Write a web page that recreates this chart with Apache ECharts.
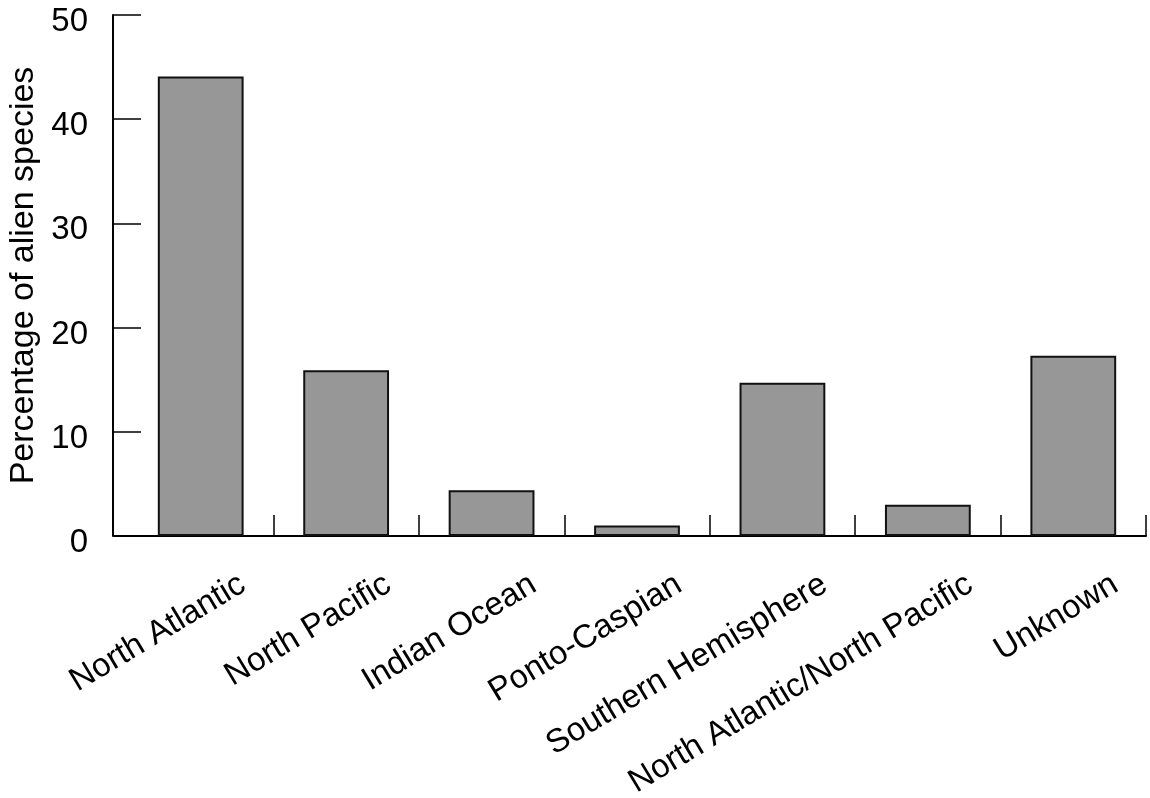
<!DOCTYPE html>
<html>
<head>
<meta charset="utf-8">
<style>
html,body{margin:0;padding:0;background:#fff;}
#chart{width:1150px;height:798px;}
</style>
<script src="https://cdn.jsdelivr.net/npm/echarts@6/dist/echarts.min.js"></script>
</head>
<body>
<div id="chart"></div>
<script>
const categories = ["North Atlantic", "North Pacific", "Indian Ocean", "Ponto-Caspian", "Southern Hemisphere", "North Atlantic/North Pacific", "Unknown"];
const percentages = [44.1, 15.9, 4.4, 1.0, 14.7, 3.0, 17.3];
const yTicks = [0, 10, 20, 30, 40, 50];
const yAxisTitle = "Percentage of alien species";

const FONT = "'Liberation Sans', Arial, sans-serif";
const LABEL_SHIFT = 42; // category labels sit to the right of the bar centres
const PLOT_LEFT = 128, PLOT_WIDTH = 1018, PLOT_TOP = 15, PLOT_HEIGHT = 521;
const chart = echarts.init(document.getElementById('chart'), null, {renderer: 'canvas'});
const option = {
  animation: false,
  backgroundColor: '#ffffff',
  grid: [
    {left: PLOT_LEFT, width: PLOT_WIDTH, top: PLOT_TOP, height: PLOT_HEIGHT, containLabel: false, outerBoundsMode: 'none'},
    {left: PLOT_LEFT + LABEL_SHIFT, width: PLOT_WIDTH, top: PLOT_TOP, height: PLOT_HEIGHT, containLabel: false, outerBoundsMode: 'none'}
  ],
  xAxis: [{
    type: 'category',
    gridIndex: 0,
    data: categories,
    boundaryGap: true,
    axisLine: {show: true, lineStyle: {color: '#000', width: 2}},
    axisTick: {
      show: true, inside: true, length: 21,
      interval: function (index) { return index !== 0; },
      lineStyle: {color: '#000', width: 1.5}
    },
    axisLabel: {show: false},
    splitLine: {show: false}
  }, {
    type: 'category',
    gridIndex: 1,
    data: categories,
    boundaryGap: true,
    axisLine: {show: false},
    axisTick: {show: false},
    axisLabel: {
      interval: 0, rotate: 31, margin: 46, hideOverlap: false,
      color: '#000', fontFamily: FONT, fontSize: 33
    },
    splitLine: {show: false}
  }],
  yAxis: [{
    type: 'value',
    gridIndex: 0,
    min: yTicks[0], max: yTicks[yTicks.length - 1], interval: 10,
    offset: 15,
    name: yAxisTitle,
    nameLocation: 'middle',
    nameGap: 68,
    nameTextStyle: {color: '#000', fontFamily: FONT, fontSize: 34},
    axisLine: {show: true, lineStyle: {color: '#000', width: 2}},
    axisTick: {show: true, inside: true, length: 28, lineStyle: {color: '#000', width: 1.5}},
    axisLabel: {margin: 25, color: '#000', fontFamily: FONT, fontSize: 33, verticalAlign: 'top', lineHeight: 14},
    splitLine: {show: false}
  }, {
    type: 'value',
    gridIndex: 1,
    min: yTicks[0], max: yTicks[yTicks.length - 1],
    show: false
  }],
  series: [{
    type: 'bar',
    xAxisIndex: 0,
    yAxisIndex: 0,
    data: percentages,
    barWidth: '59%',
    itemStyle: {color: '#979797', borderColor: '#111', borderWidth: 2}
  }]
};
chart.setOption(option);

// extend the x-axis baseline left to meet the offset y-axis
const gridRect = chart.getModel().getComponent('grid', 0).coordinateSystem.getRect();
chart.setOption({
  graphic: [{
    type: 'line',
    shape: {x1: gridRect.x - 15, y1: gridRect.y + gridRect.height, x2: gridRect.x + 1, y2: gridRect.y + gridRect.height},
    style: {stroke: '#000', lineWidth: 2},
    z: 10
  }]
});
</script>
</body>
</html>
